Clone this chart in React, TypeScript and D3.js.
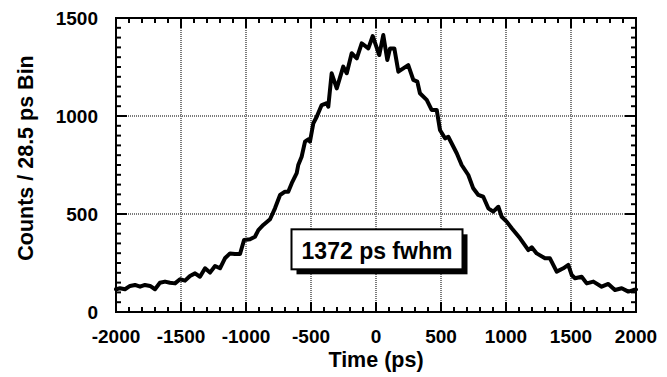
import React from "react";
import * as d3 from "d3";

const times = [
  -2000, -1969, -1931, -1892, -1854, -1815, -1777, -1738, -1700, -1662, -1623, -1585, -1546, -1508,
  -1469, -1431, -1392, -1354, -1315, -1277, -1238, -1200, -1162, -1123, -1085, -1046, -1015, -969,
  -931, -905, -867, -815, -777, -738, -700, -675, -648, -610, -598, -572, -546, -521, -508, -482,
  -456, -418, -379, -367, -341, -302, -252, -225, -187, -148, -110, -59, -25, 25, 56, 87, 108, 141,
  172, 248, 287, 318, 338, 390, 428, 467, 492, 531, 556, 621, 659, 710, 748, 787, 825, 864, 902, 941,
  967, 1005, 1044, 1108, 1172, 1198, 1236, 1300, 1338, 1390, 1441, 1479, 1505, 1531, 1582, 1621,
  1672, 1736, 1787, 1838, 1890, 1941, 1979, 2000,
];
const counts = [
  116, 121, 116, 133, 138, 129, 138, 133, 116, 149, 155, 149, 146, 167,
  160, 184, 197, 180, 223, 201, 235, 223, 274, 299, 296, 296, 367, 371,
  384, 418, 444, 473, 529, 597, 614, 614, 657, 708, 750, 792, 869, 881, 869, 963,
  996, 1056, 1065, 1047, 1218, 1141, 1252, 1218, 1320, 1294, 1371, 1345, 1408, 1311, 1413, 1286, 1345, 1345,
  1226, 1260, 1184, 1175, 1116, 1082, 1031, 1031, 929, 886, 894, 810, 750, 699, 631, 597, 588, 529, 512, 537,
  486, 461, 427, 376, 316, 330, 299, 274, 274, 206, 223, 240, 189, 172, 180, 146,
  155, 129, 143, 112, 121, 104, 112, 115,
];

const xTickLabels = [-2000, -1500, -1000, -500, 0, 500, 1000, 1500, 2000];
const yTickLabels = [0, 500, 1000, 1500];
const xTitle = "Time (ps)";
const yTitle = "Counts / 28.5 ps Bin";
const annotation = "1372 ps fwhm";
const annotationAt = { t: 0, c: 330 };

const W = 667;
const H = 377;
const FONT = "'Liberation Sans', Arial, Helvetica, sans-serif";

export default function App() {
  const left = 116, right = 636, top = 18, bottom = 312;
  const x = d3.scaleLinear().domain([-2000, 2000]).range([left, right]);
  const y = d3.scaleLinear().domain([0, 1500]).range([bottom, top]);

  const data = times.map((t, i) => ({ t, c: counts[i] }));
  const line = d3
    .line<{ t: number; c: number }>()
    .x((d) => x(d.t))
    .y((d) => y(d.c));

  const xMinor = d3.range(-2000, 2001, 100);
  const yMinor = d3.range(0, 1501, 50);
  const xGrid = xTickLabels.filter((v) => v > -2000 && v < 2000);
  const yGrid = yTickLabels.filter((v) => v > 0 && v < 1500);

  const ax = x(annotationAt.t);
  const ay = y(annotationAt.c);
  const bw = 171, bh = 40;
  const bx = ax - bw / 2 + 1, by = ay - bh / 2 + 2;

  return (
    <svg
      width={W}
      height={H}
      style={{ position: "absolute", left: 0, top: 0, background: "#fff" }}
      fontFamily={FONT}
      fontWeight="bold"
    >
      <rect x={0} y={0} width={W} height={H} fill="#fff" />
      {xGrid.map((v) => (
        <line key={"gx" + v} x1={x(v)} x2={x(v)} y1={top} y2={bottom} stroke="#7a7a7a" strokeWidth={2} strokeDasharray="1,1" />
      ))}
      {yGrid.map((v) => (
        <line key={"gy" + v} x1={left} x2={right} y1={y(v)} y2={y(v)} stroke="#7a7a7a" strokeWidth={2} strokeDasharray="1,1" />
      ))}
      {xMinor.map((v) => {
        const major = v % 500 === 0;
        const len = major ? 10 : 5;
        return (
          <g key={"xt" + v}>
            <line x1={x(v)} x2={x(v)} y1={bottom} y2={bottom - len} stroke="#000" strokeWidth={2} />
            <line x1={x(v)} x2={x(v)} y1={top} y2={top + len} stroke="#000" strokeWidth={2} />
          </g>
        );
      })}
      {yMinor.map((v) => {
        const major = v % 500 === 0;
        const len = major ? 11 : 5;
        return (
          <g key={"yt" + v}>
            <line x1={left} x2={left + len} y1={y(v)} y2={y(v)} stroke="#000" strokeWidth={2} />
            <line x1={right} x2={right - len} y1={y(v)} y2={y(v)} stroke="#000" strokeWidth={2} />
          </g>
        );
      })}
      <rect x={left} y={top} width={right - left} height={bottom - top} fill="none" stroke="#000" strokeWidth={2} />
      <path d={line(data) || ""} fill="none" stroke="#000" strokeWidth={4} strokeLinejoin="round" strokeLinecap="round" />
      <rect x={bx + 5} y={by + 5} width={bw} height={bh} fill="#000" />
      <rect x={bx} y={by} width={bw} height={bh} fill="#fff" stroke="#000" strokeWidth={2} />
      <text x={bx + bw / 2} y={by + 30} textAnchor="middle" fontSize={23} fill="#000">
        {annotation}
      </text>
      {xTickLabels.map((v) => (
        <text key={"xl" + v} x={x(v)} y={343} textAnchor="middle" fontSize={19} fill="#000">
          {v}
        </text>
      ))}
      {yTickLabels.map((v) => (
        <text key={"yl" + v} x={98} y={y(v) + 7} textAnchor="end" fontSize={19} fill="#000">
          {v}
        </text>
      ))}
      <text x={(left + right) / 2} y={367} textAnchor="middle" fontSize={21.5} fill="#000">
        {xTitle}
      </text>
      <text transform="translate(33,158) rotate(-90)" textAnchor="middle" fontSize={21.5} fill="#000">
        {yTitle}
      </text>
    </svg>
  );
}
